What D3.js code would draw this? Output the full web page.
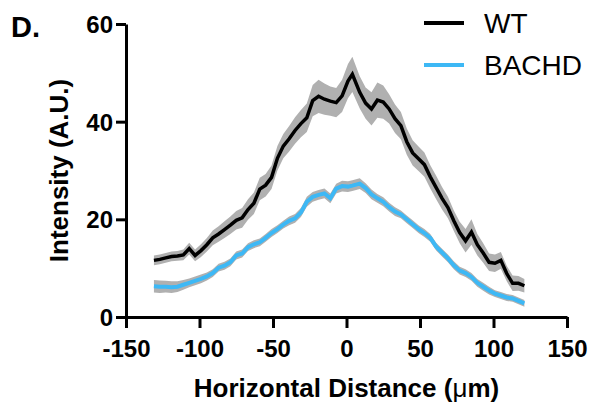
<!DOCTYPE html>
<html>
<head>
<meta charset="utf-8">
<script src="https://cdn.jsdelivr.net/npm/d3@7"></script>
<style>
  html, body { margin: 0; padding: 0; background: #fff; }
  svg { display: block; font-family: "Liberation Sans", Arial, sans-serif; }
</style>
</head>
<body>
<svg id="chart" width="594" height="410"></svg>
<script>
// Horizontal positions (µm) of the intensity profile samples
const distance = [
  -131, -127, -123, -119, -115, -111, -107, -103, -99, -95, -91, -87, -83, -79, -75, -71,
  -67, -63, -59, -55, -51, -47, -43, -39, -35, -31, -27, -23, -19, -15, -11, -7,
  -3, 1, 4, 9, 13, 17, 21, 25, 29, 33, 37, 41, 45, 49, 53, 57,
  61, 65, 69, 73, 77, 81, 85, 89, 93, 97, 101, 105, 109, 113, 117, 121
];

// Mean intensity, WT
const wtMean = [
  11.6, 11.8, 12.1, 12.4, 12.5, 12.7, 14.0, 12.6, 13.6, 14.8, 16.2, 17.0, 17.9, 18.8, 19.8, 20.3,
  22.0, 23.3, 26.2, 27.0, 28.6, 32.5, 35.0, 36.5, 38.2, 39.6, 40.8, 44.3, 45.2, 44.6, 44.2, 43.9,
  45.3, 48.3, 49.7, 46.0, 43.8, 42.6, 44.4, 44.0, 42.6, 40.6, 39.2, 35.9, 33.6, 32.4, 31.2, 28.7,
  26.5, 24.3, 22.4, 19.7, 17.3, 15.6, 17.4, 14.8, 13.1, 11.2, 11.0, 11.6, 8.9, 6.9, 6.9, 6.4
];
// SEM, WT
const wtSem = [
  1.0, 1.0, 1.0, 1.0, 1.0, 1.1, 1.2, 1.2, 1.3, 1.4, 1.5, 1.6, 1.7, 1.8, 1.9, 2.0,
  2.1, 2.2, 2.3, 2.3, 2.4, 2.5, 2.5, 2.6, 2.7, 2.8, 2.9, 3.2, 3.4, 3.2, 3.0, 3.0,
  3.3, 3.5, 3.6, 3.3, 3.2, 3.4, 3.6, 3.4, 3.0, 2.9, 2.8, 2.7, 2.6, 2.5, 2.5, 2.4,
  2.4, 2.3, 2.2, 2.1, 2.2, 2.4, 2.6, 2.2, 2.0, 1.8, 1.8, 1.7, 1.6, 1.6, 1.5, 1.4
];

// Mean intensity, BACHD
const bachdMean = [
  6.3, 6.2, 6.2, 6.1, 6.2, 6.6, 7.0, 7.4, 7.8, 8.3, 9.0, 10.1, 10.5, 11.2, 12.6, 13.0,
  14.3, 14.9, 15.3, 16.2, 17.2, 18.0, 18.9, 19.7, 20.2, 21.4, 23.6, 24.6, 25.0, 25.3, 24.3, 26.3,
  26.8, 26.7, 26.9, 27.3, 26.4, 25.1, 24.3, 23.6, 22.5, 21.6, 21.0, 20.0, 19.0, 18.0, 17.2, 16.2,
  14.4, 13.2, 12.0, 10.6, 9.5, 9.0, 8.2, 7.0, 6.2, 5.4, 4.8, 4.4, 4.0, 3.8, 3.3, 2.8
];
// SEM, BACHD
const bachdSem = [
  1.3, 1.3, 1.2, 1.2, 1.1, 1.0, 0.9, 0.9, 0.9, 0.8, 0.8, 0.8, 0.8, 0.8, 0.8, 0.8,
  0.8, 0.8, 0.8, 0.8, 0.8, 0.8, 0.8, 0.9, 0.9, 0.9, 1.0, 1.0, 1.0, 1.0, 1.0, 1.0,
  1.1, 1.1, 1.1, 1.1, 1.0, 1.0, 0.9, 0.9, 0.9, 0.9, 0.8, 0.8, 0.8, 0.8, 0.8, 0.8,
  0.8, 0.8, 0.8, 0.8, 0.8, 0.8, 0.8, 0.8, 0.8, 0.8, 0.7, 0.7, 0.7, 0.7, 0.7, 0.7
];

const seriesNames = ["WT", "BACHD"];
const seriesColors = ["#000000", "#3db8f5"];
const xTicks = [-150, -100, -50, 0, 50, 100, 150];
const yTicks = [0, 20, 40, 60];

const svg = d3.select("#chart");
const FONT = '"Liberation Sans", Arial, sans-serif';

const x = d3.scaleLinear().domain([-150, 150]).range([126, 567]);
const y = d3.scaleLinear().domain([0, 60]).range([317, 24]);

const series = [
  { name: seriesNames[0], color: seriesColors[0], width: 3.5, mean: wtMean, sem: wtSem },
  { name: seriesNames[1], color: seriesColors[1], width: 4, mean: bachdMean, sem: bachdSem }
];

const band = d3.area()
  .x((d, i) => x(distance[i]))
  .y0(d => y(d.m - d.s))
  .y1(d => y(d.m + d.s));

const line = d3.line()
  .x((d, i) => x(distance[i]))
  .y(d => y(d.m));

// SEM bands first, then mean traces
series.forEach(s => {
  const pts = s.mean.map((m, i) => ({ m, s: s.sem[i] }));
  svg.append("path")
    .attr("d", band(pts))
    .attr("fill", "#b0b0b0");
});
series.forEach(s => {
  const pts = s.mean.map((m, i) => ({ m, s: s.sem[i] }));
  svg.append("path")
    .attr("d", line(pts))
    .attr("fill", "none")
    .attr("stroke", s.color)
    .attr("stroke-width", s.width)
    .attr("stroke-linejoin", "miter");
});

// Axes (labels use a plain hyphen for negatives)
const xAxis = d3.axisBottom(x).tickValues(xTicks).tickFormat(d => String(d))
  .tickSize(11).tickSizeOuter(0);
const yAxis = d3.axisLeft(y).tickValues(yTicks).tickFormat(d => String(d))
  .tickSize(10).tickPadding(3).tickSizeOuter(0);

const gx = svg.append("g").attr("transform", `translate(0,${y(0)})`).call(xAxis);
const gy = svg.append("g").attr("transform", `translate(${x(-150)},0)`).call(yAxis);

[gx, gy].forEach(g => {
  g.select(".domain").attr("stroke", "#000").attr("stroke-width", 3);
  g.selectAll(".tick line").attr("stroke", "#000").attr("stroke-width", 3);
  g.selectAll(".tick text")
    .attr("fill", "#000")
    .style("font-family", FONT)
    .style("font-size", "24px")
    .style("font-weight", "bold");
});
gx.selectAll(".tick text").attr("dy", null).attr("y", 40);
gy.selectAll(".tick text").attr("dy", "0.36em");

// Axis titles
svg.append("text")
  .attr("transform", `translate(68,${(y(0) + y(60)) / 2}) rotate(-90)`)
  .attr("text-anchor", "middle")
  .style("font-family", FONT)
  .style("font-size", "26px")
  .style("font-weight", "bold")
  .text("Intensity (A.U.)");

const xt = svg.append("text")
  .attr("x", x(0))
  .attr("y", 397)
  .attr("text-anchor", "middle")
  .style("font-family", FONT)
  .style("font-size", "26px")
  .style("font-weight", "bold");
xt.append("tspan").text("Horizontal Distance (");
xt.append("tspan").style("font-weight", "normal").text("μ");
xt.append("tspan").text("m)");

// Panel letter
svg.append("text")
  .attr("x", 11)
  .attr("y", 37)
  .style("font-family", FONT)
  .style("font-size", "29px")
  .style("font-weight", "bold")
  .text("D.");

// Legend
const legend = svg.append("g");
series.forEach((s, i) => {
  const ly = 23 + i * 42;
  legend.append("line")
    .attr("x1", 424).attr("x2", 464)
    .attr("y1", ly).attr("y2", ly)
    .attr("stroke", s.color)
    .attr("stroke-width", 4);
  legend.append("text")
    .attr("x", 484)
    .attr("y", ly + 10)
    .style("font-family", FONT)
    .style("font-size", "28px")
    .text(s.name);
});
</script>
</body>
</html>
